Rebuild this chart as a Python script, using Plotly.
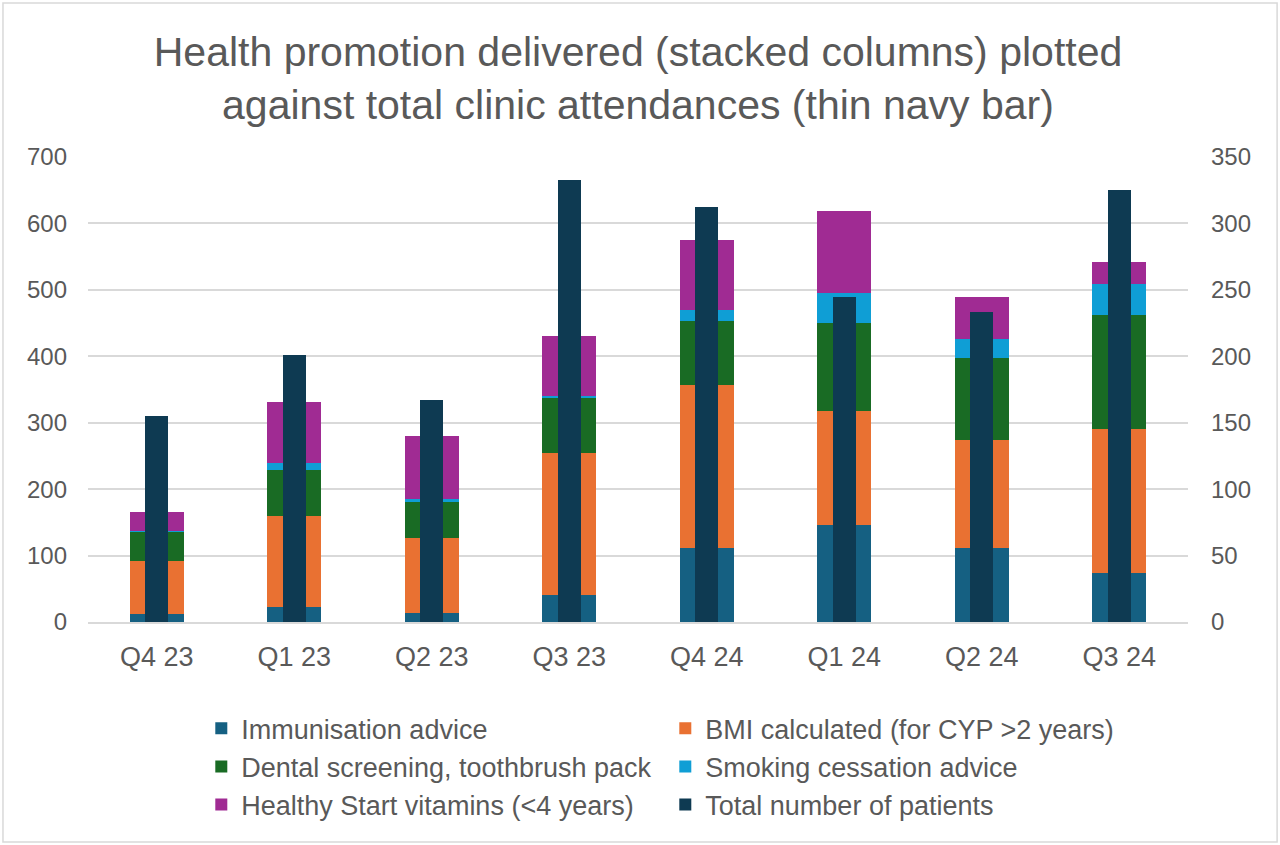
import plotly.graph_objects as go

# quarters along the x axis
quarters = ["Q4 23", "Q1 23", "Q2 23", "Q3 23", "Q4 24", "Q1 24", "Q2 24", "Q3 24"]

# health promotion delivered (left axis, stacked)
immunisation = [12, 22, 13, 40, 112, 146, 111, 74]
bmi = [80, 138, 114, 215, 245, 171, 163, 217]
dental = [44, 69, 55, 82, 96, 133, 123, 171]
smoking = [1, 10, 3, 3, 16, 46, 29, 47]
vitamins = [28, 92, 95, 91, 106, 122, 63, 33]

# total clinic attendances (right axis, thin bar)
total_patients = [155, 201, 167, 333, 312, 245, 233, 325]

FONT = "Liberation Sans, Arial, sans-serif"
GREY = "#595959"

fig = go.Figure()

stack = [
    ("Immunisation advice", immunisation, "#156082"),
    ("BMI calculated (for CYP >2 years)", bmi, "#e97132"),
    ("Dental screening, toothbrush pack", dental, "#196b24"),
    ("Smoking cessation advice", smoking, "#0f9ed5"),
    ("Healthy Start vitamins (<4 years)", vitamins, "#a02b93"),
]
for name, vals, col in stack:
    fig.add_trace(go.Bar(
        x=quarters, y=vals, name=name,
        marker=dict(color=col, line_width=0),
        width=0.39, yaxis="y",
    ))

fig.add_trace(go.Bar(
    x=quarters, y=total_patients, name="Total number of patients",
    marker=dict(color="#0e3a52", line_width=0),
    width=0.165, yaxis="y2",
))

fig.update_layout(
    width=1280, height=845,
    paper_bgcolor="white", plot_bgcolor="white",
    barmode="stack",
    margin=dict(l=88, r=92, t=157, b=223),
    font=dict(family=FONT, color=GREY, size=24),
    title=dict(
        text="Health promotion delivered (stacked columns) plotted<br>against total clinic attendances (thin navy bar)",
        x=0.5, xanchor="center", xref="paper",
        y=0.922, yanchor="top", yref="container",
        font=dict(family=FONT, size=41, color=GREY),
    ),
    xaxis=dict(
        showgrid=False, showline=True, linecolor="#d9d9d9", linewidth=1.5,
        ticks="", ticklabelstandoff=10,
        tickfont=dict(size=27, color=GREY),
    ),
    yaxis=dict(
        range=[0, 700], dtick=100, showgrid=True, gridcolor="#d9d9d9", gridwidth=1.5,
        zeroline=False, showline=False, ticks="", ticklabelstandoff=20,
        tickfont=dict(size=24, color=GREY),
    ),
    yaxis2=dict(
        range=[0, 350], dtick=50, overlaying="y", side="right",
        showgrid=False, zeroline=False, showline=False, ticks="", ticklabelstandoff=22,
        tickfont=dict(size=24, color=GREY),
    ),
    legend=dict(
        orientation="h", x=0.103, xanchor="left", y=-0.177, yanchor="top",
        entrywidth=419, entrywidthmode="pixels",
        font=dict(size=27, color=GREY), traceorder="normal",
        bgcolor="rgba(0,0,0,0)",
    ),
    showlegend=True,
)

# light chart border like the spreadsheet frame
fig.add_shape(
    type="rect", xref="paper", yref="paper",
    x0=-0.0773, x1=1.081, y0=-0.473, y1=1.331,
    line=dict(color="#d9d9d9", width=1.5), fillcolor="rgba(0,0,0,0)", layer="below",
)

fig.write_html(
    "out.html",
    config={"displayModeBar": False},
    post_script="document.body.style.margin='0';",
)
